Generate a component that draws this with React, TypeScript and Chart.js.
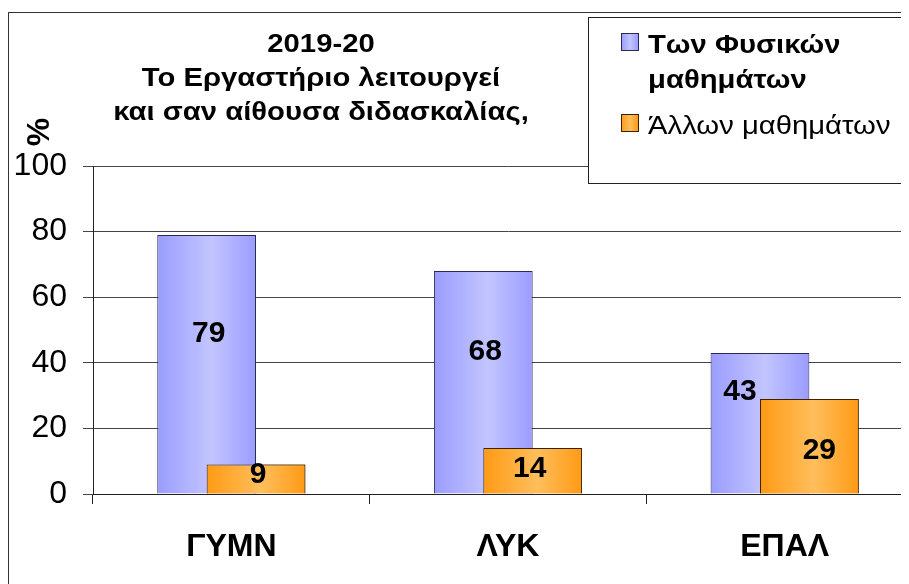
import { useEffect, useRef } from 'react';
import { Chart, registerables } from 'chart.js';

Chart.register(...registerables);

const CATEGORIES = ['ΓΥΜΝ', 'ΛΥΚ', 'ΕΠΑΛ'];
const PHYSICS = [79, 68, 43];
const OTHER = [9, 14, 29];
const SERIES_LABELS = ['Των Φυσικών μαθημάτων', 'Άλλων μαθημάτων'];
const TITLE_LINES = ['2019-20', 'Το Εργαστήριο λειτουργεί', 'και σαν αίθουσα διδασκαλίας,'];
const Y_TICKS = [0, 20, 40, 60, 80, 100];
const Y_LABEL = '%';

const W = 940;
const H = 600;
const CAT_PCT = 0.357;
const FONT = '"Liberation Sans", Arial, Helvetica, sans-serif';
const GRADS = [
  ['#9a9cff', '#c3c5ff', '#9a9cff'],
  ['#ff9a14', '#ffbe5c', '#ff9a14'],
];
const BORDERS = ['#2a2a50', '#3a2200'];
const LABEL_DX = [[2, 2, -20], [2, -3, 10]];
const LABEL_DY = [[-30, -30, -31], [-4, -2, 5]];
const SX = 1.17;

function barFill(ds: number) {
  return (c: any) => {
    const g = GRADS[ds];
    const x = c.chart.scales && c.chart.scales.x;
    if (c.type !== 'data' || !x) return g[1];
    const catW = (x.right - x.left) / CATEGORIES.length;
    const size = catW * CAT_PCT;
    const center = x.getPixelForValue(c.dataIndex);
    const left = center - 0.75 * size + (ds * size) / 2;
    if (!isFinite(left) || !isFinite(size) || size <= 0) return g[1];
    const grad = c.chart.ctx.createLinearGradient(left, 0, left + size, 0);
    grad.addColorStop(0, g[0]);
    grad.addColorStop(0.55, g[1]);
    grad.addColorStop(1, g[2]);
    return grad;
  };
}

function stretchText(ctx: CanvasRenderingContext2D, text: string, x: number, y: number, align: CanvasTextAlign) {
  ctx.save();
  ctx.translate(x, y);
  ctx.scale(SX, 1);
  ctx.textAlign = align;
  ctx.textBaseline = 'alphabetic';
  ctx.fillText(text, 0, 0);
  ctx.restore();
}

function wrap(ctx: CanvasRenderingContext2D, text: string, maxW: number) {
  const words = text.split(' ');
  const lines: string[] = [];
  let cur = '';
  for (const w of words) {
    const t = cur ? cur + ' ' + w : w;
    if (cur && ctx.measureText(t).width * SX > maxW) {
      lines.push(cur);
      cur = w;
    } else cur = t;
  }
  if (cur) lines.push(cur);
  return lines;
}

const overlay = {
  id: 'overlay',
  afterDatasetsDraw(chart: any) {
    // orange series sits in front of the blue one
    chart.getDatasetMeta(1).controller.draw();
    const ctx: CanvasRenderingContext2D = chart.ctx;
    ctx.save();
    ctx.font = `bold 30px ${FONT}`;
    ctx.fillStyle = '#000';
    ctx.textAlign = 'center';
    ctx.textBaseline = 'middle';
    [0, 1].forEach((d) => {
      const meta = chart.getDatasetMeta(d);
      meta.data.forEach((bar: any, i: number) => {
        const v = chart.data.datasets[d].data[i];
        ctx.fillText(String(v), bar.x + LABEL_DX[d][i], (bar.y + bar.base) / 2 + LABEL_DY[d][i]);
      });
    });
    ctx.restore();
  },
  afterDraw(chart: any) {
    const ctx: CanvasRenderingContext2D = chart.ctx;
    ctx.save();
    // title
    ctx.fillStyle = '#000';
    ctx.font = `bold 25px ${FONT}`;
    TITLE_LINES.forEach((t, i) => stretchText(ctx, t, 313, 44 + i * 34, 'center'));
    // y axis label
    ctx.save();
    ctx.translate(32, 124);
    ctx.rotate(-Math.PI / 2);
    ctx.font = `bold 32px ${FONT}`;
    ctx.textAlign = 'center';
    ctx.textBaseline = 'middle';
    ctx.fillText(Y_LABEL, 0, 0);
    ctx.restore();
    // legend box
    ctx.fillStyle = '#fff';
    ctx.fillRect(580.5, 9.5, 400, 166);
    ctx.strokeStyle = '#222';
    ctx.lineWidth = 1;
    ctx.strokeRect(580.5, 9.5, 400, 166);
    let baseline = 45;
    chart.data.datasets.forEach((ds: any, d: number) => {
      ctx.font = `${d === 0 ? 'bold ' : ''}25px ${FONT}`;
      const lines = wrap(ctx, ds.label, 250);
      const sqTop = baseline - 20;
      const g = ctx.createLinearGradient(613, 0, 630, 0);
      g.addColorStop(0, GRADS[d][0]);
      g.addColorStop(0.55, GRADS[d][1]);
      g.addColorStop(1, GRADS[d][2]);
      ctx.fillStyle = g;
      ctx.fillRect(613.5, sqTop + 0.5, 17, 17);
      ctx.strokeStyle = BORDERS[d];
      ctx.strokeRect(613.5, sqTop + 0.5, 17, 17);
      ctx.fillStyle = '#000';
      lines.forEach((l, li) => stretchText(ctx, l, 640, baseline + li * 35, 'left'));
      baseline += (lines.length - 1) * 35 + 46;
    });
    // outer frame
    ctx.strokeStyle = '#333';
    ctx.strokeRect(0.5, 4.5, W + 10, H + 10);
    ctx.restore();
  },
};

export default function App() {
  const ref = useRef<HTMLCanvasElement>(null);
  useEffect(() => {
    Chart.defaults.font.family = FONT;
    const chart = new Chart(ref.current as HTMLCanvasElement, {
      type: 'bar',
      data: {
        labels: CATEGORIES,
        datasets: [
          {
            label: SERIES_LABELS[0],
            data: PHYSICS,
            backgroundColor: barFill(0) as any,
            borderColor: BORDERS[0],
            borderWidth: 1,
            categoryPercentage: CAT_PCT,
            barPercentage: 2,
          },
          {
            label: SERIES_LABELS[1],
            data: OTHER,
            backgroundColor: barFill(1) as any,
            borderColor: BORDERS[1],
            borderWidth: 1,
            categoryPercentage: CAT_PCT,
            barPercentage: 2,
          },
        ],
      },
      options: {
        responsive: false,
        animation: false,
        layout: { padding: { top: 158, right: 25, left: 0, bottom: 0 } },
        plugins: {
          legend: { display: false },
          title: { display: false },
          tooltip: { enabled: false },
        },
        scales: {
          x: {
            type: 'category',
            grid: { offset: true, drawOnChartArea: false, drawTicks: true, tickLength: 10, color: '#222' },
            border: { color: '#222' },
            ticks: { font: { size: 32, weight: 'bold', family: FONT }, color: '#000', padding: 24, maxRotation: 0, autoSkip: false },
            afterFit: (s: any) => { s.height = H - 486; },
          },
          y: {
            min: 0,
            max: 100,
            ticks: { stepSize: 20, font: { size: 32, family: FONT }, color: '#000', padding: 16 },
            grid: { color: '#444', tickLength: 10 },
            border: { color: '#222' },
            afterBuildTicks: (s: any) => { s.ticks = Y_TICKS.map((v) => ({ value: v })); },
            afterFit: (s: any) => { s.width = 85; },
          },
        },
      },
      plugins: [overlay],
    });
    return () => chart.destroy();
  }, []);
  return (
    <div style={{ width: 901, height: 576, overflow: 'hidden', position: 'relative' }}>
      <canvas ref={ref} width={W} height={H} style={{ display: 'block', width: W, height: H }} />
    </div>
  );
}
